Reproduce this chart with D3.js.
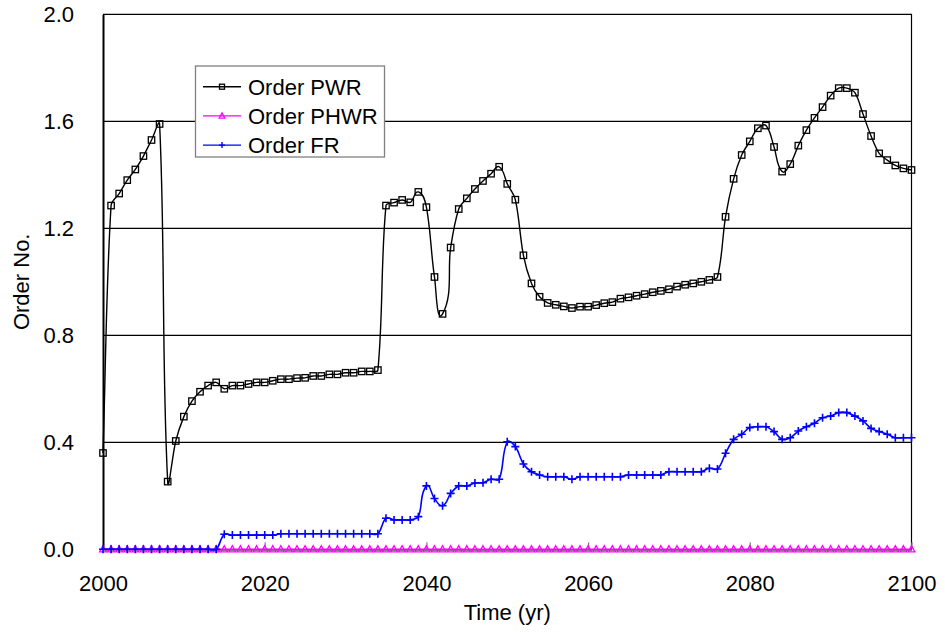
<!DOCTYPE html>
<html>
<head>
<meta charset="utf-8">
<script src="https://cdn.jsdelivr.net/npm/d3@7"></script>
<style>
  html, body { margin: 0; padding: 0; background: #fff; }
  svg { display: block; font-family: "Liberation Sans", Arial, sans-serif; }
</style>
</head>
<body>
<svg id="chart" width="945" height="636"></svg>
<script>
// Yearly reactor order numbers, 2000–2100
const years = d3.range(2000, 2101);

const orderPWR = [
  0.36, 1.285, 1.33, 1.38, 1.42, 1.47, 1.53, 1.59, 0.253, 0.405,
  0.496, 0.554, 0.589, 0.612, 0.624, 0.600, 0.612, 0.612, 0.618, 0.624,
  0.624, 0.630, 0.636, 0.636, 0.640, 0.641, 0.648, 0.648, 0.654, 0.654,
  0.660, 0.660, 0.665, 0.665, 0.670, 1.285, 1.296, 1.306, 1.297, 1.336,
  1.279, 1.018, 0.880, 1.128, 1.272, 1.312, 1.347, 1.377, 1.404, 1.430,
  1.366, 1.307, 1.099, 0.994, 0.944, 0.921, 0.914, 0.908, 0.902, 0.907,
  0.907, 0.913, 0.920, 0.924, 0.937, 0.942, 0.948, 0.954, 0.961, 0.966,
  0.972, 0.982, 0.989, 0.994, 1.000, 1.007, 1.018, 1.243, 1.385, 1.474,
  1.525, 1.574, 1.584, 1.504, 1.412, 1.440, 1.509, 1.567, 1.613, 1.653,
  1.696, 1.724, 1.724, 1.707, 1.627, 1.545, 1.480, 1.455, 1.435, 1.424,
  1.418
];

const orderPHWR = years.map(() => 0);

const orderFR = [
  0, 0, 0, 0, 0, 0, 0, 0, 0, 0,
  0, 0, 0, 0, 0, 0.056, 0.053, 0.053, 0.053, 0.053,
  0.053, 0.053, 0.058, 0.058, 0.058, 0.058, 0.058, 0.058, 0.058, 0.058,
  0.058, 0.058, 0.058, 0.058, 0.058, 0.116, 0.110, 0.110, 0.110, 0.122,
  0.237, 0.190, 0.163, 0.209, 0.237, 0.237, 0.248, 0.249, 0.262, 0.262,
  0.402, 0.384, 0.319, 0.290, 0.278, 0.271, 0.271, 0.271, 0.262, 0.271,
  0.271, 0.271, 0.271, 0.271, 0.271, 0.278, 0.278, 0.278, 0.278, 0.278,
  0.290, 0.290, 0.290, 0.290, 0.290, 0.303, 0.300, 0.359, 0.411, 0.430,
  0.455, 0.458, 0.458, 0.440, 0.411, 0.417, 0.442, 0.458, 0.471, 0.492,
  0.498, 0.511, 0.511, 0.498, 0.480, 0.452, 0.440, 0.430, 0.417, 0.417,
  0.417
];

const seriesNames = ["Order PWR", "Order PHWR", "Order FR"];
const xTicks = [2000, 2020, 2040, 2060, 2080, 2100];
const yTicks = [0.0, 0.4, 0.8, 1.2, 1.6, 2.0];

const svg = d3.select("#chart");
const plotLeft = 103, plotRight = 911.5, plotTop = 14.3, plotBottom = 549.3;

const x = d3.scaleLinear().domain([2000, 2100]).range([plotLeft, plotRight]);
const y = d3.scaleLinear().domain([0, 2]).range([plotBottom, plotTop]);

// Smoothed-line curve: cubic Bezier through every point, with the tangent
// at each point along (next - previous) and control arms proportional to
// the length of the adjoining segment, so short segments next to big jumps
// do not overshoot.
function SmoothCurve(context) { this._context = context; }
SmoothCurve.prototype = {
  areaStart() { this._line = 0; },
  areaEnd() { this._line = NaN; },
  lineStart() { this._pts = []; },
  point(px, py) { this._pts.push([+px, +py]); },
  lineEnd() {
    const p = this._pts, n = p.length, ctx = this._context, k = 1 / 3;
    if (!n) return;
    ctx.moveTo(p[0][0], p[0][1]);
    if (n === 1) return;
    const dist = (a, b) => Math.hypot(b[0] - a[0], b[1] - a[1]);
    const tangent = i => {
      const a = p[Math.max(0, i - 1)], b = p[Math.min(n - 1, i + 1)];
      const len = dist(a, b) || 1;
      return [(b[0] - a[0]) / len, (b[1] - a[1]) / len];
    };
    for (let i = 0; i < n - 1; i++) {
      const a = p[i], b = p[i + 1], d = dist(a, b);
      const ta = tangent(i), tb = tangent(i + 1);
      ctx.bezierCurveTo(
        a[0] + ta[0] * d * k, a[1] + ta[1] * d * k,
        b[0] - tb[0] * d * k, b[1] - tb[1] * d * k,
        b[0], b[1]);
    }
  }
};
const curveSmooth = context => new SmoothCurve(context);

// Horizontal gridlines
svg.append("g")
  .selectAll("line")
  .data(yTicks.filter(v => v > 0 && v < 2))
  .join("line")
  .attr("x1", plotLeft).attr("x2", plotRight)
  .attr("y1", d => y(d)).attr("y2", d => y(d))
  .attr("stroke", "#000").attr("stroke-width", 1.2);

// Plot frame: top and right edges
svg.append("path")
  .attr("d", `M${plotLeft},${plotTop}H${plotRight}V${plotBottom}`)
  .attr("fill", "none").attr("stroke", "#000").attr("stroke-width", 1.2);

// X axis with inward tick marks
const xAxis = svg.append("g")
  .attr("transform", `translate(0,${plotBottom})`)
  .call(d3.axisBottom(x).tickValues(xTicks).tickFormat(d3.format("d"))
    .tickSizeInner(-7).tickSizeOuter(0).tickPadding(26));
xAxis.select(".domain").attr("stroke", "#000").attr("stroke-width", 1.2);
xAxis.selectAll(".tick line").attr("stroke", "#808080").attr("stroke-width", 1.2);
xAxis.selectAll(".tick text").attr("font-size", 22).attr("fill", "#000")
  .attr("font-family", "Liberation Sans, Arial, sans-serif");

// Y axis
const yAxis = svg.append("g")
  .attr("transform", `translate(${plotLeft},0)`)
  .call(d3.axisLeft(y).tickValues(yTicks).tickFormat(d3.format(".1f"))
    .tickSize(0).tickPadding(29));
yAxis.select(".domain").attr("stroke", "#000").attr("stroke-width", 2);
yAxis.selectAll(".tick text").attr("font-size", 22).attr("fill", "#000")
  .attr("font-family", "Liberation Sans, Arial, sans-serif");

// Axis titles
svg.append("text")
  .attr("x", (plotLeft + plotRight) / 2).attr("y", 620)
  .attr("text-anchor", "middle").attr("font-size", 22)
  .text("Time (yr)");
svg.append("text")
  .attr("transform", `translate(29,${(plotTop + plotBottom) / 2}) rotate(-90)`)
  .attr("text-anchor", "middle").attr("font-size", 22)
  .text("Order No.");

// Series lines
const line = d3.line()
  .x((d, i) => x(years[i]))
  .y(d => y(d))
  .curve(curveSmooth);

const plot = svg.append("g");

const seriesDefs = [
  { name: seriesNames[1], values: orderPHWR, color: "#ff00ff", marker: "triangle", width: 1.5 },
  { name: seriesNames[2], values: orderFR,   color: "#0000ff", marker: "plus",     width: 1.6 },
  { name: seriesNames[0], values: orderPWR,  color: "#000000", marker: "square",   width: 1.4 }
];

function drawMarker(g, type, color) {
  if (type === "square") {
    g.append("rect").attr("x", -3.2).attr("y", -3.2).attr("width", 6.4).attr("height", 6.4)
      .attr("fill", "none").attr("stroke", color).attr("stroke-width", 1.3);
  } else if (type === "triangle") {
    g.append("path").attr("d", "M0,-3.6L3.4,2.6L-3.4,2.6Z")
      .attr("fill", "none").attr("stroke", color).attr("stroke-width", 1.3);
  } else {
    g.append("path").attr("d", "M-4,0H4M0,-4V4")
      .attr("fill", "none").attr("stroke", color).attr("stroke-width", 1.6);
  }
}

seriesDefs.forEach(s => {
  plot.append("path")
    .datum(s.values)
    .attr("d", line)
    .attr("fill", "none")
    .attr("stroke", s.color)
    .attr("stroke-width", s.width);
  plot.append("g")
    .selectAll("g")
    .data(s.values)
    .join("g")
    .attr("transform", (d, i) => `translate(${x(years[i])},${y(d)})`)
    .each(function() { drawMarker(d3.select(this), s.marker, s.color); });
});

// Legend
const legend = svg.append("g").attr("transform", "translate(195.5,66)");
legend.append("rect")
  .attr("width", 189).attr("height", 91)
  .attr("fill", "#fff").attr("stroke", "#808080").attr("stroke-width", 1.3);

const legendItems = [
  { name: seriesNames[0], color: "#000000", marker: "square" },
  { name: seriesNames[1], color: "#ff00ff", marker: "triangle" },
  { name: seriesNames[2], color: "#0000ff", marker: "plus" }
];
legendItems.forEach((item, i) => {
  const row = legend.append("g").attr("transform", `translate(0,${20.7 + i * 29.2})`);
  row.append("line").attr("x1", 7.5).attr("x2", 45.5)
    .attr("stroke", item.color).attr("stroke-width", 1.4);
  const m = row.append("g").attr("transform", "translate(26.5,0)");
  if (item.marker === "square") {
    m.append("rect").attr("x", -2.5).attr("y", -2.5).attr("width", 5).attr("height", 5)
      .attr("fill", "none").attr("stroke", item.color).attr("stroke-width", 1.3);
  } else if (item.marker === "triangle") {
    m.append("path").attr("d", "M0,-3L2.8,2.2L-2.8,2.2Z")
      .attr("fill", "none").attr("stroke", item.color).attr("stroke-width", 1.3);
  } else {
    m.append("path").attr("d", "M-3,0H3M0,-3V3")
      .attr("stroke", item.color).attr("stroke-width", 1.4);
  }
  row.append("text").attr("x", 52.5).attr("dy", "0.36em")
    .attr("font-size", 22).text(item.name);
});
</script>
</body>
</html>
